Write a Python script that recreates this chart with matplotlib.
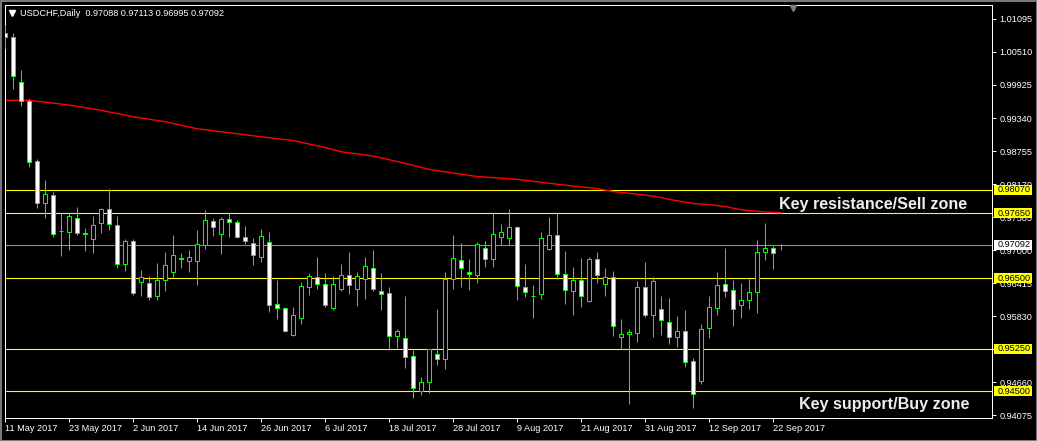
"""USDCHF daily candles with key support / resistance zones"""

import matplotlib.pyplot as plt
import numpy as np
from matplotlib import font_manager
from matplotlib.patches import Rectangle

# Daily OHLC, 11 May 2017 .. 25 Sep 2017 (one entry per trading day)
opens = [1.00847, 1.00776, 0.99978, 0.99641, 0.98578, 0.97833, 0.97975, 0.97337, 0.97319, 0.97567,
         0.97301, 0.97195, 0.97479, 0.97727, 0.97443, 0.96752, 0.97159, 0.96433, 0.96415, 0.96184,
         0.96468, 0.96610, 0.96840, 0.96805, 0.96805, 0.97088, 0.97514, 0.97283, 0.97549, 0.97496,
         0.97230, 0.97124, 0.96876, 0.97142, 0.96043, 0.95972, 0.95493, 0.95794, 0.96344, 0.96521,
         0.96397, 0.95972, 0.96308, 0.96557, 0.96308, 0.96486, 0.96681, 0.96273, 0.96238, 0.95475,
         0.95440, 0.95121, 0.94500, 0.94660, 0.95156, 0.95068, 0.96486, 0.96823, 0.96610, 0.96557,
         0.97035, 0.96840, 0.97230, 0.97213, 0.97408, 0.96344, 0.96184, 0.96220, 0.97017, 0.97266,
         0.96575, 0.96273, 0.96468, 0.96096, 0.96840, 0.96397, 0.96521, 0.95457, 0.95511, 0.95528,
         0.96344, 0.95848, 0.95954, 0.95723, 0.95457, 0.95564, 0.95032, 0.94678, 0.95617, 0.95972,
         0.96397, 0.96291, 0.96025, 0.96113, 0.96255, 0.96965, 0.97035, 0.97088]
highs = [1.00989, 1.00847, 1.00191, 0.99677, 0.98613, 0.98241, 0.98028, 0.97656, 0.97656, 0.97762,
         0.97390, 0.97603, 0.97744, 0.98081, 0.97603, 0.97195, 0.97195, 0.96645, 0.96539, 0.96770,
         0.96965, 0.97266, 0.96947, 0.97000, 0.97354, 0.97709, 0.97567, 0.97585, 0.97656, 0.97532,
         0.97425, 0.97213, 0.97372, 0.97319, 0.96468, 0.95989, 0.95989, 0.96433, 0.96592, 0.96876,
         0.96592, 0.96539, 0.96752, 0.96965, 0.96610, 0.96876, 0.97000, 0.96592, 0.96344, 0.95599,
         0.96184, 0.95227, 0.94749, 0.95245, 0.95954, 0.96610, 0.97266, 0.97124, 0.96840, 0.97142,
         0.97159, 0.97656, 0.97461, 0.97727, 0.97425, 0.96752, 0.96379, 0.97319, 0.97585, 0.97656,
         0.96982, 0.96699, 0.96858, 0.96876, 0.96965, 0.96681, 0.96628, 0.95777, 0.95599, 0.96450,
         0.96787, 0.96521, 0.96184, 0.96149, 0.95830, 0.95936, 0.95085, 0.95688, 0.96184, 0.96610,
         0.97035, 0.96468, 0.96415, 0.96486, 0.97177, 0.97479, 0.97071, 0.97113]
lows = [1.00563, 0.99854, 0.99553, 0.98471, 0.97744, 0.97567, 0.97230, 0.96894, 0.97000, 0.97266,
        0.96982, 0.96947, 0.97301, 0.97354, 0.96681, 0.96628, 0.96202, 0.96184, 0.96113, 0.96113,
        0.96273, 0.96521, 0.96681, 0.96610, 0.96379, 0.97017, 0.97248, 0.96929, 0.97230, 0.97213,
        0.97106, 0.96734, 0.96787, 0.95901, 0.95777, 0.95546, 0.95475, 0.95688, 0.96202, 0.96308,
        0.95989, 0.95936, 0.96273, 0.96220, 0.96007, 0.96131, 0.96273, 0.95936, 0.95227, 0.95262,
        0.94908, 0.94376, 0.94429, 0.94465, 0.94961, 0.94890, 0.96308, 0.96344, 0.96291, 0.96415,
        0.96699, 0.96699, 0.97088, 0.97088, 0.96113, 0.96167, 0.95794, 0.96131, 0.97000, 0.96486,
        0.96043, 0.95848, 0.95989, 0.96078, 0.96415, 0.96184, 0.95475, 0.95245, 0.94270, 0.95369,
        0.95812, 0.95457, 0.95493, 0.95333, 0.95280, 0.94926, 0.94199, 0.94624, 0.95440, 0.95848,
        0.96167, 0.95653, 0.95794, 0.95954, 0.95883, 0.96823, 0.96663, 0.96995]
closes = [1.00776, 1.00084, 0.99641, 0.98560, 0.97833, 0.97993, 0.97283, 0.97330, 0.97603, 0.97301,
          0.97283, 0.97443, 0.97727, 0.97461, 0.96752, 0.97159, 0.96238, 0.96521, 0.96167, 0.96468,
          0.96734, 0.96911, 0.96858, 0.96876, 0.97106, 0.97532, 0.97408, 0.97549, 0.97496, 0.97230,
          0.97159, 0.96911, 0.97248, 0.96025, 0.95972, 0.95564, 0.95848, 0.96362, 0.96539, 0.96397,
          0.96025, 0.96397, 0.96557, 0.96379, 0.96539, 0.96716, 0.96308, 0.96220, 0.95475, 0.95564,
          0.95103, 0.94553, 0.94660, 0.95245, 0.95068, 0.96486, 0.96858, 0.96681, 0.96575, 0.97106,
          0.96840, 0.97283, 0.97319, 0.97408, 0.96362, 0.96255, 0.96180, 0.97213, 0.97266, 0.96575,
          0.96291, 0.96468, 0.96184, 0.96840, 0.96557, 0.96521, 0.95653, 0.95511, 0.95546, 0.96344,
          0.95848, 0.96450, 0.95759, 0.95457, 0.95564, 0.95014, 0.94447, 0.95599, 0.95989, 0.96379,
          0.96273, 0.95954, 0.96113, 0.96255, 0.96965, 0.97035, 0.96947, 0.97092]

# moving average (red line), read at these bar numbers
ma_bars = [0, 3, 8, 12, 16, 20, 24, 28, 32, 36, 40, 42, 46, 50, 53, 56, 59, 64, 67, 71,
           74, 76, 78, 81, 83, 86, 88, 90, 92, 95, 97]
ma_values = [0.99654, 0.99654, 0.99570, 0.99476, 0.99363, 0.99274, 0.99150, 0.99079, 0.99008, 0.98941,
             0.98817, 0.98742, 0.98666, 0.98537, 0.98430, 0.98365, 0.98303, 0.98253, 0.98200, 0.98134,
             0.98090, 0.98037, 0.98005, 0.97957, 0.97899, 0.97824, 0.97806, 0.97771, 0.97714, 0.97674,
             0.97661]

zone_levels = [0.98070, 0.97650, 0.96500, 0.95250, 0.94500]
bid_level = 0.97092
price_ticks = [1.01095, 1.00510, 0.99925, 0.99340, 0.98755, 0.98170, 0.97585,
               0.97000, 0.96415, 0.95830, 0.95245, 0.94660, 0.94075]
date_labels = ["11 May 2017", "23 May 2017", "2 Jun 2017", "14 Jun 2017", "26 Jun 2017",
               "6 Jul 2017", "18 Jul 2017", "28 Jul 2017", "9 Aug 2017", "21 Aug 2017",
               "31 Aug 2017", "12 Sep 2017", "22 Sep 2017"]

plt.rcParams['font.family'] = ['Liberation Sans', 'DejaVu Sans']
GREEN = '#00ff00'
PX = 0.72  # one pixel in points

# the captions use a narrow bold face; if none is installed, shrink regular bold to the same width
caption_family, caption_size = 'Liberation Sans', 11.6
for fam in ['Liberation Sans Narrow', 'Arial Narrow', 'DejaVu Sans Condensed']:
    try:
        font_manager.findfont(font_manager.FontProperties(family=fam, weight='bold'),
                              fallback_to_default=False)
        caption_family, caption_size = fam, 14
        break
    except ValueError:
        pass

W, H = 1037, 441
fig = plt.figure(figsize=(W / 100, H / 100), dpi=100, facecolor='black')
ax = fig.add_axes([4.5 / W, 1 - 418 / H, (992 - 4.5) / W, (418 - 4.5) / H])
ax.set_facecolor('black')
ax.set_xlim(-0.0625, 123.375)
ax.set_ylim(0.94022, 1.01352)

# horizontal levels
for lvl in zone_levels:
    ax.axhline(lvl, color='#ffff00', lw=1.1 * PX, zorder=1)
ax.axhline(bid_level, color='#8c8c8c', lw=1.1 * PX, zorder=1)

# moving average
ax.plot(ma_bars, ma_values, color='#ff0000', lw=1.4 * PX, zorder=2)

# candles
x = np.arange(len(opens))
o, h, l, c = (np.array(a) for a in (opens, highs, lows, closes))
ax.vlines(x, l, h, color=GREEN, lw=PX, zorder=3)
bull = c >= o
ax.bar(x, np.abs(c - o), bottom=np.minimum(o, c), width=0.5,
       color=np.where(bull, 'black', 'white'), edgecolor=GREEN, linewidth=PX, zorder=4)

# zone captions
ax.text(120.25, 0.97735, "Key resistance/Sell zone", color='#eeeeee', fontsize=caption_size,
        fontweight='bold', family=caption_family, ha='right', va='baseline', zorder=5)
ax.text(120.5, 0.94190, "Key support/Buy zone", color='#eeeeee', fontsize=caption_size,
        fontweight='bold', family=caption_family, ha='right', va='baseline', zorder=5)

# axes styling
for s in ax.spines.values():
    s.set_color('white')
    s.set_linewidth(PX)
ax.yaxis.tick_right()
ax.set_yticks(price_ticks)
ax.set_yticklabels([f"{t:.5f}" for t in price_ticks])
ax.set_xticks(range(0, len(opens), 8))
ax.set_xticklabels(date_labels, ha='left')
ax.tick_params(axis='y', colors='white', labelsize=6.6, length=3, width=PX, pad=2.2)
ax.tick_params(axis='x', colors='white', labelsize=6.6, length=3, width=PX, pad=1.5)

# price labels on the right scale
bx = ax.get_yaxis_transform()
box_h = 10 * (1.01352 - 0.94022) / 413.5
for lvl, fc in [(v, '#ffff00') for v in zone_levels] + [(bid_level, 'white')]:
    ax.add_patch(Rectangle((1.002, lvl - box_h / 2), 0.0385, box_h, transform=bx,
                           facecolor=fc, edgecolor='none', clip_on=False, zorder=6))
    ax.text(1.0061, lvl, f"{lvl:.5f}", transform=bx, color='black', fontsize=6.6,
            ha='left', va='center', clip_on=False, zorder=7)

# header
fig.text(20 / W, 1 - 13 / H, "USDCHF,Daily  0.97088 0.97113 0.96995 0.97092",
         color='white', fontsize=6.6, ha='left', va='center')
fig.lines.append(plt.Line2D([11.5 / W], [1 - 13 / H], marker='v', markersize=4.5,
                            color='white', transform=fig.transFigure))
fig.lines.append(plt.Line2D([793 / W], [1 - 7.5 / H], marker='v', markersize=5,
                            color='#808080', transform=fig.transFigure))
# window frame
fig.patches.append(Rectangle((0.5 / W, 0.5 / H), 1 - 1 / W, 1 - 1 / H, transform=fig.transFigure,
                             facecolor='none', edgecolor='#a0a0a0', lw=1.5 * PX))

fig.savefig("out.png", dpi=100, facecolor='black')
